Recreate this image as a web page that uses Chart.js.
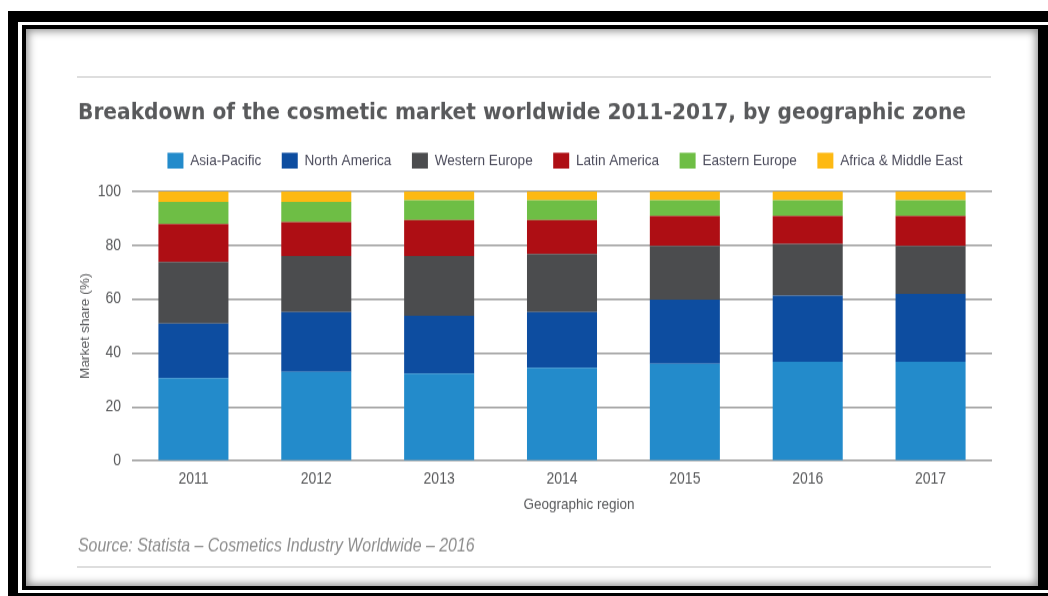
<!DOCTYPE html>
<html>
<head>
<meta charset="utf-8">
<script src="https://cdn.jsdelivr.net/npm/chart.js@4"></script>
<style>
  body { margin: 0; width: 1048px; height: 596px; background: #fff; position: relative; overflow: hidden; }
  .box { position: absolute; }
  #outer { left: 8px; top: 11px; width: 1040px; height: 585px; background: #000; }
  #gap { left: 18px; top: 22px; width: 1030px; height: 571px; background: #fff; }
  #inner { left: 22px; top: 25px; width: 1026px; height: 565px; background: #000; }
  #panel { left: 26px; top: 29px; width: 1012px; height: 557px; background: #fff;
           box-shadow: inset 0 0 9px 2px rgba(0, 0, 0, 0.45); }
  .rule { position: absolute; left: 77px; width: 914px; height: 2px; background: #dedede; }
  #wrap { position: absolute; left: 70px; top: 80px; width: 922px; height: 418px;
          transform: scaleY(1.15); transform-origin: 0 0; }
</style>
</head>
<body>
<div class="box" id="outer"></div>
<div class="box" id="gap"></div>
<div class="box" id="inner"></div>
<div class="box" id="panel"></div>
<div class="rule" style="top: 76px"></div>
<div class="rule" style="top: 566px"></div>
<div id="wrap"><canvas id="marketChart"></canvas></div>

<script>
const years = ["2011", "2012", "2013", "2014", "2015", "2016", "2017"];
const yTicks = [0, 20, 40, 60, 80, 100];

// market share (%) per region, bottom of the stack first
const asiaPacific = [30.7, 33.1, 32.4, 34.6, 36.1, 36.8, 36.8];
const northAmerica = [20.3, 22.2, 21.5, 20.7, 23.7, 24.5, 25.2];
const westernEurope = [22.8, 20.8, 22.2, 21.5, 20.0, 19.2, 17.8];
const latinAmerica = [14.1, 12.6, 13.3, 12.6, 11.1, 10.4, 11.1];
const easternEurope = [8.2, 7.4, 7.4, 7.4, 5.9, 5.9, 5.9];
const africaMiddleEast = [3.9, 3.9, 3.2, 3.2, 3.2, 3.2, 3.2];

const textColor = "#58595b";
const gridColor = "#9d9d9d";
const baseFont = "'Liberation Sans', Arial, sans-serif";

// extra room under the legend, and nudge legend / x title right like the original
const layoutTweaks = {
  id: "layoutTweaks",
  beforeInit(chart) {
    const fit = chart.legend.fit;
    chart.legend.fit = function () {
      fit.bind(chart.legend)();
      this.height += 10;
    };
  },
  afterLayout(chart) {
    chart.legend.left += 3;
    chart.legend.right += 3;
    chart.scales.x.right += 34;
  },
};

function series(label, data, color) {
  return {
    label: label,
    data: data,
    backgroundColor: color,
    borderWidth: 0,
    barPercentage: 0.57,
    categoryPercentage: 1,
  };
}

const ctx = document.getElementById("marketChart").getContext("2d");

new Chart(ctx, {
  type: "bar",
  data: {
    labels: years,
    datasets: [
      series("Asia-Pacific", asiaPacific, "#238bcb"),
      series("North America", northAmerica, "#0d4da0"),
      series("Western Europe", westernEurope, "#4b4c4e"),
      series("Latin America", latinAmerica, "#ae0e14"),
      series("Eastern Europe", easternEurope, "#6ebe45"),
      series("Africa & Middle East", africaMiddleEast, "#fdb913"),
    ],
  },
  options: {
    responsive: true,
    maintainAspectRatio: false,
    animation: false,
    layout: { padding: { left: 8, right: 0, top: 0, bottom: 0 } },
    scales: {
      x: {
        stacked: true,
        afterFit: (scale) => {
          scale.height = 45.9;
        },
        grid: { display: false, drawTicks: false },
        border: { display: false },
        ticks: { color: textColor, padding: 7.6, font: { family: baseFont, size: 14 } },
        title: {
          display: true,
          text: "Geographic region",
          color: textColor,
          padding: { top: 1.2, bottom: 0 },
          font: { family: baseFont, size: 13.5 },
        },
      },
      y: {
        stacked: true,
        min: 0,
        max: 100,
        afterBuildTicks: (scale) => {
          scale.ticks = yTicks.map((v) => ({ value: v }));
        },
        afterFit: (scale) => {
          scale.width = 54;
        },
        grid: { color: gridColor, lineWidth: 1.6, drawTicks: false },
        border: { display: false },
        ticks: { color: textColor, padding: 11, font: { family: baseFont, size: 14 } },
        title: {
          display: true,
          text: "Market share (%)",
          color: textColor,
          padding: { top: 2, bottom: 0 },
          font: { family: baseFont, size: 12, lineHeight: 1 },
        },
      },
    },
    plugins: {
      title: {
        display: true,
        align: "start",
        text: "Breakdown of the cosmetic market worldwide 2011-2017, by geographic zone",
        color: textColor,
        padding: { top: 16.2, bottom: 2.36 },
        font: { family: "'DejaVu Sans', sans-serif", size: 20.2, weight: "bold" },
      },
      subtitle: {
        display: true,
        position: "bottom",
        align: "start",
        text: "Source: Statista \u2013 Cosmetics Industry Worldwide \u2013 2016",
        color: "#8d8d8d",
        padding: { top: 19.1, bottom: 2.7 },
        font: { family: baseFont, size: 15.9, style: "italic" },
      },
      legend: {
        display: true,
        fullSize: false,
        labels: {
          boxWidth: 16,
          boxHeight: 13.6,
          padding: 20.5,
          color: "#4b4b5b",
          font: { family: baseFont, size: 13.6 },
        },
      },
      tooltip: { enabled: false },
    },
  },
  plugins: [layoutTweaks],
});
</script>
</body>
</html>
